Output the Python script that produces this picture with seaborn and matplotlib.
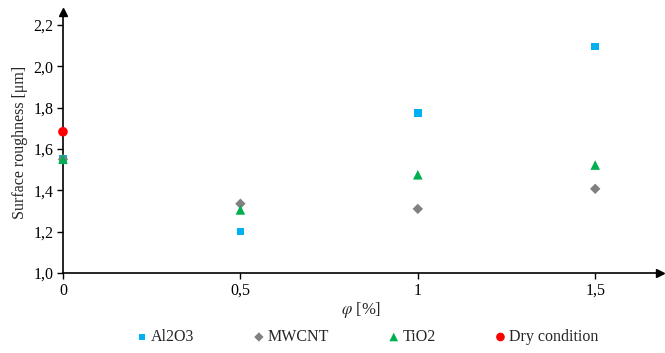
import numpy as np
import pandas as pd
import matplotlib
matplotlib.use('Agg')
import matplotlib.pyplot as plt
import seaborn as sns

# values
phi = [0, 0.5, 1, 1.5]
al2o3 = [1.55, 1.20, 1.775, 2.095]
mwcnt = [1.55, 1.335, 1.31, 1.407]
tio2 = [1.55, 1.305, 1.475, 1.522]
dry_phi = [0]
dry = [1.683]

series = ['Al2O3', 'MWCNT', 'TiO2', 'Dry condition']
colors = ['#00B0F0', '#808080', '#00B050', '#FF0000']
markers = ['s', 'D', '^', 'o']
sizes = [30, 28, 48, 48]

frames = []
for name, xs, ys in [('Al2O3', phi, al2o3), ('MWCNT', phi, mwcnt),
                     ('TiO2', phi, tio2), ('Dry condition', dry_phi, dry)]:
    frames.append(pd.DataFrame({'phi': xs, 'ra': ys, 'series': name}))
df = pd.concat(frames, ignore_index=True)

sns.set_style('white')
plt.rcParams['font.family'] = ['Liberation Serif', 'DejaVu Serif']
plt.rcParams['mathtext.fontset'] = 'stix'

fig = plt.figure(figsize=(6.65, 3.53), dpi=100)
ax = fig.add_axes([0.0947, 0.2266, 0.898, 0.74])

for name, c, m, s in zip(series, colors, markers, sizes):
    sub = df[df['series'] == name]
    sns.scatterplot(data=sub, x='phi', y='ra', ax=ax, color=c, marker=m, s=s,
                    edgecolor='none', linewidth=0, label=name, zorder=3)
# points on x=0 sit on the spine, don't cut them in half
for coll in ax.collections:
    coll.set_clip_on(False)

ax.set_xlim(0, 1.683)
ax.set_ylim(1.0, 2.263)
ax.set_xticks(phi)
ax.set_xticklabels(['0', '0,5', '1', '1,5'])
yt = [1.0, 1.2, 1.4, 1.6, 1.8, 2.0, 2.2]
ax.set_yticks(yt)
ax.set_yticklabels([f'{v:.1f}'.replace('.', ',') for v in yt])
ax.tick_params(axis='both', direction='out', length=4, width=1, labelsize=11.5,
               colors='black', bottom=True, left=True, pad=3)

for side in ['top', 'right']:
    ax.spines[side].set_visible(False)
for side in ['left', 'bottom']:
    ax.spines[side].set_color('black')
    ax.spines[side].set_linewidth(1.2)

# arrow heads at the ends of the axes
ax.plot(1, 0, '>k', markersize=6, transform=ax.transAxes, clip_on=False)
ax.plot(0, 1, '^k', markersize=6, transform=ax.transAxes, clip_on=False)

ax.set_ylabel('Surface roughness [μm]', fontsize=11.5, labelpad=4)
ax.set_xlabel(r'$\varphi$ [%]', fontsize=12, labelpad=1)

ax.legend(loc='upper center', bbox_to_anchor=(0.51, -0.16), ncol=4, frameon=False,
          fontsize=11.5, handlelength=0.7, handletextpad=0.2, columnspacing=3.7,
          markerscale=0.9)

fig.savefig('out.png', dpi=100)
